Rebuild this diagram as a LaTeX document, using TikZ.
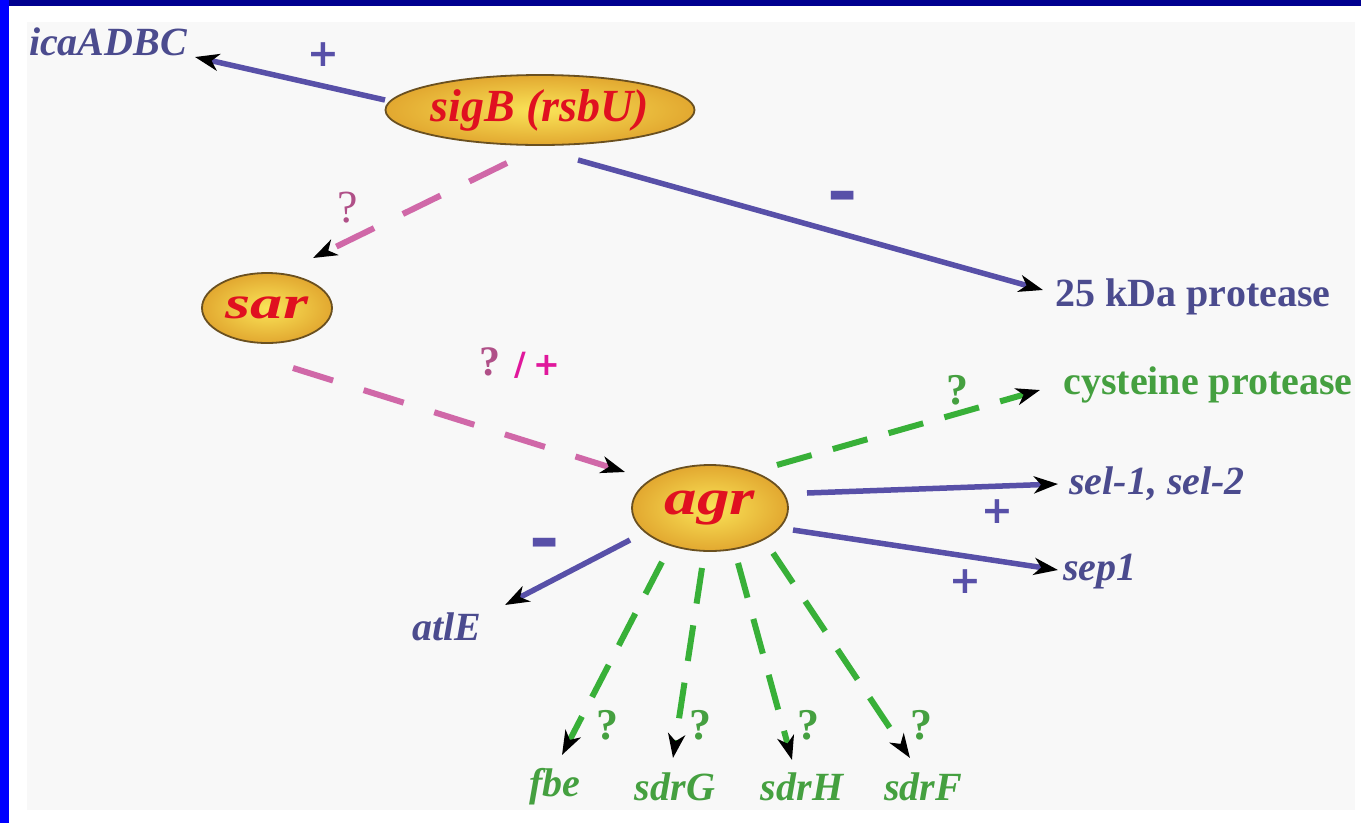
\documentclass[tikz,border=0pt]{standalone}
\usepackage{fontspec}
\setmainfont{Liberation Serif}
\newfontfamily\sansbold{DejaVu Sans}
\usetikzlibrary{arrows.meta,shapes.geometric}
\definecolor{frameNavy}{HTML}{000090}
\definecolor{frameBlue}{HTML}{0000FF}
\definecolor{panelGrey}{HTML}{F8F8F8}
\definecolor{slateText}{HTML}{4B4B8E}
\definecolor{lineBlue}{HTML}{5850A8}
\definecolor{pinkLine}{HTML}{D068A8}
\definecolor{mauveQ}{HTML}{B05088}
\definecolor{magentaQ}{HTML}{E0189C}
\definecolor{greenLine}{HTML}{38B038}
\definecolor{greenText}{HTML}{45A040}
\definecolor{ellRed}{HTML}{E01020}
\definecolor{ellIn}{HTML}{FAE458}
\definecolor{ellOut}{HTML}{E2A830}
\definecolor{ellBorder}{HTML}{6A5020}
\begin{document}
\begin{tikzpicture}[x=1pt,y=-1pt,
  ell/.style={ellipse, draw=ellBorder, line width=1.8pt, inner color=ellIn, outer color=ellOut, inner sep=0pt, text=ellRed, font=\fontsize{46}{50}\selectfont\bfseries\itshape},
  gene/.style={inner sep=2pt, text=slateText, font=\fontsize{40}{44}\selectfont\bfseries\itshape},
  prot/.style={inner sep=2pt, text=slateText, font=\fontsize{40}{44}\selectfont\bfseries},
  ggene/.style={gene, text=greenText},
  gprot/.style={prot, text=greenText},
  sign/.style={inner sep=0pt, text=lineBlue, font=\fontsize{38}{42}\sansbold\bfseries},
  qgreen/.style={inner sep=0pt, text=greenText, font=\fontsize{44}{48}\selectfont\bfseries},
  qpink/.style={inner sep=0pt, text=mauveQ, font=\fontsize{46}{50}\selectfont},
  tipk/.style={-{Stealth[length=24pt,width=17pt,inset=7pt,color=black]}},
  blueArrow/.style={tipk, draw=lineBlue, line width=5.5pt},
  pinkArrow/.style={tipk, draw=pinkLine, line width=6pt, dash pattern=on 42pt off 32pt},
  greenArrow/.style={tipk, draw=greenLine, line width=6pt, dash pattern=on 36pt off 22pt}
]
\useasboundingbox (0,0) rectangle (1361,823);
\fill[white] (0,0) rectangle (1361,823);
\fill[panelGrey] (27,22) rectangle (1355,810);
\fill[frameNavy] (0,0) rectangle (1361,6);
\fill[frameBlue] (0,0) rectangle (9,823);

% main ellipses
\node[ell, minimum width=276pt, minimum height=70pt] (sigB) at (540,110) {sigB (rsbU)};
\node[ell, minimum width=130pt, minimum height=70pt] (sar) at (267,308) {\scalebox{1.4}[1]{sar}};
\node[ell, minimum width=156pt, minimum height=86pt, font=\fontsize{50}{54}\selectfont\bfseries\itshape] (agr) at (710,508) {\scalebox{1.3}[1]{agr}};

% targets
\node[gene] (ica) at (108,42) {icaADBC};
\node[prot] (kda) at (1193,297) {25 kDa protease};
\node[gprot] (cys) at (1208,385) {cysteine protease};
\node[gene] (sel) at (1157,484) {sel-1, sel-2};
\node[gene] (sep) at (1100,572) {sep1};
\node[gene] (atl) at (447,627) {atlE};
\node[ggene] (fbe) at (555,787) {fbe};
\node[ggene] (sdrG) at (675,787) {sdrG};
\node[ggene] (sdrH) at (802,787) {sdrH};
\node[ggene] (sdrF) at (923,787) {sdrF};

% connectors
\draw[blueArrow] ([shift={(-155,-10)}]sigB.center) -- ([shift={(87,15)}]ica.center);
\draw[blueArrow] ([shift={(38,50)}]sigB.center) -- ([shift={(-150,-7)}]kda.center);
\draw[pinkArrow] ([shift={(-33,53)}]sigB.center) -- ([shift={(46,-50)}]sar.center);
\draw[pinkArrow] ([shift={(26,60)}]sar.center) -- ([shift={(-85,-36)}]agr.center);
\draw[greenArrow] ([shift={(67,-43)}]agr.center) -- ([shift={(-168,5)}]cys.center);
\draw[blueArrow] ([shift={(97,-15)}]agr.center) -- ([shift={(-99,0)}]sel.center);
\draw[blueArrow] ([shift={(83,22)}]agr.center) -- ([shift={(-42,-2)}]sep.center);
\draw[blueArrow] ([shift={(-80,32)}]agr.center) -- ([shift={(58,-22)}]atl.center);
\draw[greenArrow] ([shift={(-48,54)}]agr.center) -- ([shift={(7,-32)}]fbe.center);
\draw[greenArrow] ([shift={(-8,60)}]agr.center) -- ([shift={(-2,-29)}]sdrG.center);
\draw[greenArrow] ([shift={(28,55)}]agr.center) -- ([shift={(-10,-27)}]sdrH.center);
\draw[greenArrow] ([shift={(63,45)}]agr.center) -- ([shift={(-13,-29)}]sdrF.center);

% signs
\node[sign] (s1) at (323,55) {+};
\node[sign] (s2) at (843,205) {\scalebox{0.95}[2]{−}};
\node[sign] (s3) at (997,512) {+};
\node[sign] (s4) at (965,582) {+};
\node[sign] (s5) at (545,552) {\scalebox{0.95}[2]{−}};

% question marks
\node[qpink] (q0) at (348,208) {?};
\node[inner sep=0pt] (q1) at (520,363) {{\fontsize{42}{46}\selectfont\bfseries\color{mauveQ}?}\hspace{14pt}{\color{magentaQ}\fontsize{32}{36}\sansbold\bfseries /\hspace{8pt}+}};
\node[qgreen] (q2) at (957,390) {?};
\node[qgreen] (q3) at (607,725) {?};
\node[qgreen] (q4) at (700,725) {?};
\node[qgreen] (q5) at (808,725) {?};
\node[qgreen] (q6) at (921,725) {?};
\end{tikzpicture}
\end{document}
